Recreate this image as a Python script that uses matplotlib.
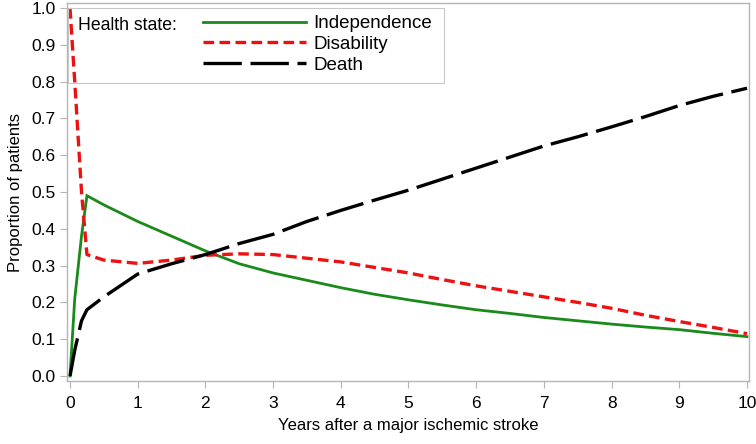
import matplotlib
matplotlib.use("Agg")
import matplotlib.pyplot as plt
from matplotlib.patches import Rectangle

plt.rcParams['font.family'] = ['Liberation Sans', 'DejaVu Sans']
plt.rcParams['font.size'] = 12

# years after stroke
years = [0, 0.07, 0.17, 0.25, 0.5, 1, 1.5, 2, 2.5, 3, 3.5, 4, 4.5, 5,
         5.5, 6, 6.5, 7, 7.5, 8, 8.5, 9, 9.5, 10]
independence = [0, 0.21, 0.38, 0.49, 0.465, 0.42, 0.38, 0.34, 0.305, 0.28,
                0.26, 0.24, 0.222, 0.207, 0.193, 0.18, 0.17, 0.159, 0.15,
                0.141, 0.133, 0.126, 0.116, 0.107]
disability = [1.0, 0.8, 0.5, 0.33, 0.315, 0.306, 0.315, 0.328, 0.332, 0.33,
              0.32, 0.31, 0.295, 0.28, 0.262, 0.245, 0.23, 0.215, 0.2,
              0.184, 0.165, 0.148, 0.132, 0.115]
death = [0, 0.07, 0.15, 0.18, 0.215, 0.277, 0.305, 0.33, 0.36, 0.385,
         0.42, 0.45, 0.478, 0.505, 0.535, 0.565, 0.595, 0.625, 0.65,
         0.677, 0.705, 0.735, 0.76, 0.782]
xticks = list(range(0, 11))
yticks = [i / 10 for i in range(0, 11)]

W, H = 756, 444
fig = plt.figure(figsize=(W / 100, H / 100), dpi=100)
ax = fig.add_axes([67 / W, 1 - 381 / H, (749 - 67) / W, (381 - 3) / H])

l1, = ax.plot(years, independence, color='#1a8a1a', lw=2.0, solid_joinstyle='miter')
l2, = ax.plot(years, disability, color='#ee1111', lw=2.4, dashes=(3.2, 1.6))
l3, = ax.plot(years, death, color='black', lw=2.4, dashes=(11.5, 2.6))

ax.set_xlim(-3 / 67.7, 10 + 2 / 67.7)
ax.set_ylim(-5 / 368, 1 + 5 / 368)
ax.set_xticks(xticks)
ax.set_xticklabels([str(t) for t in xticks])
ax.set_yticks(yticks)
ax.set_yticklabels([f'{t:.1f}' for t in yticks])

for s in ax.spines.values():
    s.set_color('#b4b4b4')
    s.set_linewidth(1.0)
ax.tick_params(direction='out', length=5, color='#b4b4b4', labelsize=12.5, pad=3)
ax.tick_params(axis='x', pad=6)

ax.set_xlabel('Years after a major ischemic stroke', fontsize=12, labelpad=5)
ax.set_ylabel('Proportion of patients', fontsize=12, labelpad=6)

# legend box
fig.patches.append(Rectangle((68 / W, 1 - 83 / H), (444 - 68) / W, (83 - 8) / H,
                             transform=fig.transFigure, fill=False,
                             edgecolor='#c8c8c8', lw=0.8))
fig.text(78 / W, 1 - 25 / H, 'Health state:', fontsize=12.7, va='center', ha='left')
fig.legend([l1, l2, l3], ['Independence', 'Disability', 'Death'],
           loc='upper left', bbox_to_anchor=(203 / W, 1 - 15 / H),
           bbox_transform=fig.transFigure, frameon=False, fontsize=13.5,
           handlelength=5.5, handletextpad=0.38, labelspacing=0.2,
           borderpad=0, borderaxespad=0)

fig.savefig('out.png', dpi=100)
